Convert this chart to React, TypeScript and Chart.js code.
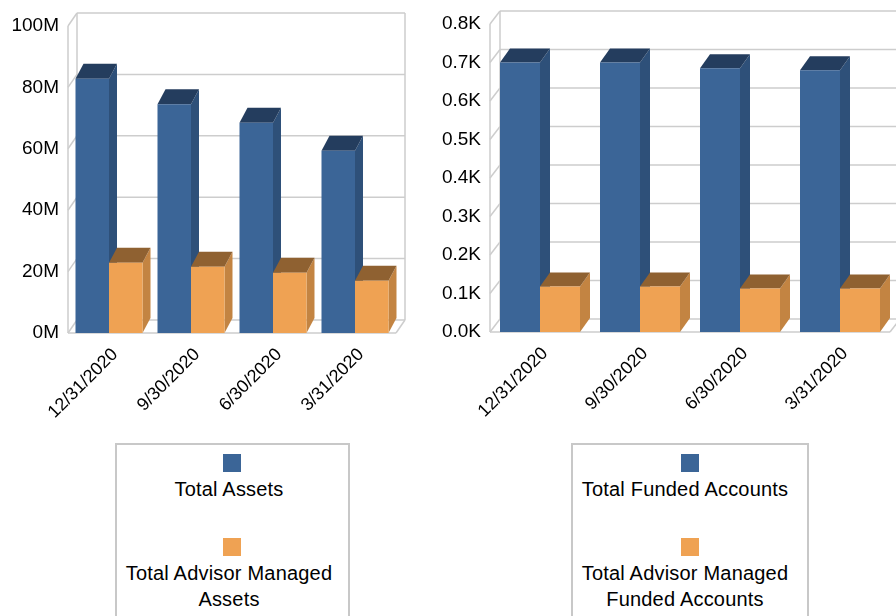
import { useEffect, useRef } from "react";
import { Chart, registerables } from "chart.js";

Chart.register(...registerables);

// ---------- data ----------
const categories = ["12/31/2020", "9/30/2020", "6/30/2020", "3/31/2020"];

const totalAssets = [82800000, 74500000, 68500000, 59400000];
const advisorManagedAssets = [22900000, 21600000, 19600000, 17000000];
const assetsAxisMax = 100000000;
const assetsAxisStep = 20000000;

const totalFundedAccounts = [700, 700, 685, 680];
const advisorManagedFundedAccounts = [118, 118, 113, 113];
const accountsAxisMax = 800;
const accountsAxisStep = 100;

const leftSeriesNames = ["Total Assets", "Total Advisor Managed Assets"];
const rightSeriesNames = ["Total Funded Accounts", "Total Advisor Managed Funded Accounts"];

// ---------- styles ----------
const FONT = "'Liberation Sans', Arial, sans-serif";
const BLUE = { front: "#3B6597", side: "#2E5079", top: "#243D5E" };
const ORANGE = { front: "#EFA253", side: "#C38442", top: "#8F6131" };
const FACES = [BLUE, ORANGE];
const WALL = "#CDCDCD";

type Depth = { dx: number; dy: number };

function make3DPlugin(wall: Depth, bar: Depth) {
  return {
    id: "fake3d",
    beforeDatasetsDraw(chart: any) {
      const { ctx, chartArea } = chart;
      const { left, right, top, bottom } = chartArea;
      const y = chart.scales.y;
      const line = (x1: number, y1: number, x2: number, y2: number) => {
        ctx.beginPath();
        ctx.moveTo(x1, y1);
        ctx.lineTo(x2, y2);
        ctx.stroke();
      };
      ctx.save();
      ctx.strokeStyle = WALL;
      ctx.lineWidth = 1.5;
      // side wall front edge
      line(left, top, left, bottom);
      // back wall verticals
      line(left + wall.dx, top - wall.dy, left + wall.dx, bottom - wall.dy);
      line(right + wall.dx, top - wall.dy, right + wall.dx, bottom - wall.dy);
      // gridlines on back wall + side wall
      y.ticks.forEach((t: any) => {
        const py = y.getPixelForValue(t.value);
        line(left, py, left + wall.dx, py - wall.dy);
        line(left + wall.dx, py - wall.dy, right + wall.dx, py - wall.dy);
      });
      // floor
      line(left, bottom, right, bottom);
      line(right, bottom, right + wall.dx, bottom - wall.dy);

      // bar extrusions (side + top faces)
      const poly = (pts: number[][], color: string) => {
        ctx.beginPath();
        ctx.moveTo(pts[0][0], pts[0][1]);
        for (let k = 1; k < pts.length; k++) ctx.lineTo(pts[k][0], pts[k][1]);
        ctx.closePath();
        ctx.fillStyle = color;
        ctx.fill();
      };
      chart.data.datasets.forEach((_ds: any, i: number) => {
        const meta = chart.getDatasetMeta(i);
        const faces = FACES[i];
        meta.data.forEach((el: any) => {
          const p = el.getProps(["x", "y", "base", "width"], true);
          const l = p.x - p.width / 2;
          const r = p.x + p.width / 2;
          const ty = p.y;
          const b = p.base;
          poly(
            [
              [r, ty],
              [r + bar.dx, ty - bar.dy],
              [r + bar.dx, b - bar.dy],
              [r, b],
            ],
            faces.side
          );
          poly(
            [
              [l, ty],
              [l + bar.dx, ty - bar.dy],
              [r + bar.dx, ty - bar.dy],
              [r, ty],
            ],
            faces.top
          );
        });
      });
      ctx.restore();
    },
  };
}

type PanelProps = {
  left: number;
  width: number;
  height: number;
  values: number[][];
  names: string[];
  max: number;
  step: number;
  fmt: (v: number) => string;
  axisWidth: number;
  xAxisHeight: number;
  padTop: number;
  padRight: number;
  catPct: number;
  labelShift: number;
  wall: Depth;
  bar: Depth;
};

function Panel(props: PanelProps) {
  const ref = useRef<HTMLCanvasElement | null>(null);
  useEffect(() => {
    if (!ref.current) return;
    const chart = new Chart(ref.current, {
      type: "bar",
      data: {
        labels: categories,
        datasets: props.values.map((vals, i) => ({
          label: props.names[i],
          data: vals,
          backgroundColor: FACES[i].front,
          borderWidth: 0,
          barPercentage: 1,
          categoryPercentage: props.catPct,
        })),
      },
      options: {
        responsive: false,
        animation: false,
        events: [],
        layout: { padding: { top: props.padTop, right: props.padRight, left: 0, bottom: 0 } },
        plugins: {
          legend: { display: false },
          tooltip: { enabled: false },
        },
        scales: {
          x: {
            grid: { display: false, drawTicks: false },
            border: { display: false },
            ticks: {
              autoSkip: false,
              minRotation: 45,
              maxRotation: 45,
              padding: 11,
              labelOffset: props.labelShift,
              color: "#000",
              font: { family: FONT, size: 18 },
            },
            afterFit: (s: any) => {
              s.height = props.xAxisHeight;
            },
          },
          y: {
            min: 0,
            max: props.max,
            grid: { display: false, drawTicks: false },
            border: { display: false },
            ticks: {
              stepSize: props.step,
              padding: 9,
              color: "#000",
              font: { family: FONT, size: 19 },
              callback: (v: any) => props.fmt(Number(v)),
            },
            afterFit: (s: any) => {
              s.width = props.axisWidth;
            },
          },
        },
      },
      plugins: [make3DPlugin(props.wall, props.bar)],
    } as any);
    return () => chart.destroy();
  }, []);
  return (
    <canvas
      ref={ref}
      width={props.width}
      height={props.height}
      style={{ position: "absolute", left: props.left, top: 0, width: props.width, height: props.height }}
    />
  );
}

type LegendProps = {
  boxLeft: number;
  boxWidth: number;
  squareLeft: number;
  textCenter: number;
  names: string[][];
};

function Legend(p: LegendProps) {
  const textStyle = (top: number): any => ({
    position: "absolute",
    left: p.textCenter - 160,
    width: 320,
    top,
    textAlign: "center",
    font: `20px ${FONT}`,
    lineHeight: "26px",
    letterSpacing: "0.2px",
    color: "#000",
    whiteSpace: "nowrap",
  });
  return (
    <>
      <div
        style={{
          position: "absolute",
          left: p.boxLeft,
          top: 443,
          width: p.boxWidth,
          height: 220,
          boxSizing: "border-box",
          border: "2px solid #C8C8C8",
        }}
      />
      <div style={{ position: "absolute", left: p.squareLeft, top: 454, width: 18, height: 18, background: BLUE.front }} />
      <div style={textStyle(476)}>
        {p.names[0].map((s, i) => (
          <div key={i}>{s}</div>
        ))}
      </div>
      <div style={{ position: "absolute", left: p.squareLeft, top: 538, width: 18, height: 18, background: ORANGE.front }} />
      <div style={textStyle(559.5)}>
        {p.names[1].map((s, i) => (
          <div key={i}>{s}</div>
        ))}
      </div>
    </>
  );
}

export default function App() {
  return (
    <div
      style={{
        position: "absolute",
        left: 0,
        top: 0,
        width: 896,
        height: 616,
        overflow: "hidden",
        background: "#fff",
      }}
    >
      <Panel
        left={0}
        width={420}
        height={430}
        values={[totalAssets, advisorManagedAssets]}
        names={leftSeriesNames}
        max={assetsAxisMax}
        step={assetsAxisStep}
        fmt={(v) => `${Math.round(v / 1000000)}M`}
        axisWidth={68}
        xAxisHeight={97}
        padTop={26}
        padRight={24}
        catPct={0.817}
        labelShift={6}
        wall={{ dx: 9, dy: 13 }}
        bar={{ dx: 8, dy: 15 }}
      />
      <Panel
        left={420}
        width={476}
        height={430}
        values={[totalFundedAccounts, advisorManagedFundedAccounts]}
        names={rightSeriesNames}
        max={accountsAxisMax}
        step={accountsAxisStep}
        fmt={(v) => `${(v / 1000).toFixed(1)}K`}
        axisWidth={70}
        xAxisHeight={98}
        padTop={24}
        padRight={6}
        catPct={0.8}
        labelShift={5}
        wall={{ dx: 10, dy: 13 }}
        bar={{ dx: 10, dy: 14 }}
      />
      <Legend
        boxLeft={115}
        boxWidth={235}
        squareLeft={223}
        textCenter={229}
        names={[["Total Assets"], ["Total Advisor Managed", "Assets"]]}
      />
      <Legend
        boxLeft={571}
        boxWidth={238}
        squareLeft={681}
        textCenter={685}
        names={[["Total Funded Accounts"], ["Total Advisor Managed", "Funded Accounts"]]}
      />
    </div>
  );
}
